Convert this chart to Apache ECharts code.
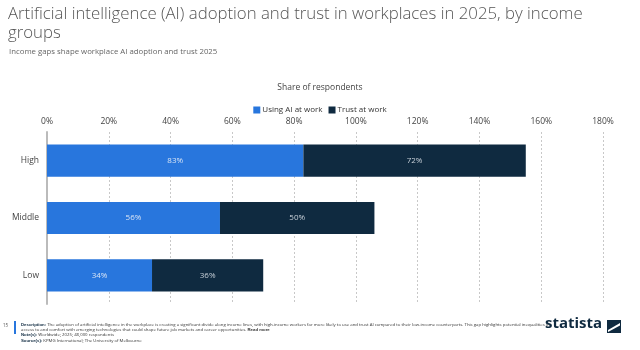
<!DOCTYPE html>
<html><head><meta charset="utf-8">
<script src="https://cdn.jsdelivr.net/npm/echarts@6/dist/echarts.min.js"></script>
<style>html,body{margin:0;padding:0;background:#fff}#c{width:640px;height:350px}</style>
</head><body><div id="c"></div>
<script>
var categories = ['High', 'Middle', 'Low'];
var usingAI = [83, 56, 34];
var trustAI = [72, 50, 36];
var xTicks = [0, 20, 40, 60, 80, 100, 120, 140, 160, 180];

var chart = echarts.init(document.getElementById('c'), null, {renderer: 'canvas'});
var F = '"Open Sans", "Noto Sans", sans-serif';
var desc1 = 'The adoption of artificial intelligence in the workplace is creating a significant divide along income lines, with high-income workers far more likely to use and trust AI compared to their low-income counterparts. This gap highlights potential inequalities in';
var desc2 = 'access to and comfort with emerging technologies that could shape future job markets and career opportunities. ';
chart.setOption({
  animation: false,
  textStyle: {fontFamily: F},
  title: [{
    text: 'Artificial intelligence (AI) adoption and trust in workplaces in 2025, by income\ngroups',
    left: 8, top: 5, padding: 0,
    textStyle: {fontFamily: F, fontWeight: 300, fontSize: 16.8, color: '#555', lineHeight: 19}
  }, {
    text: 'Income gaps shape workplace AI adoption and trust 2025',
    left: 9, top: 48, padding: 0,
    textStyle: {fontFamily: F, fontWeight: 400, fontSize: 7.8, color: '#666'}
  }],
  legend: {
    top: 101, left: 'center',
    itemWidth: 7, itemHeight: 7, itemGap: 6,
    icon: 'rect',
    textStyle: {fontFamily: F, fontSize: 8, color: '#333', padding: [0, 0, 0, -3]},
    data: ['Using AI at work', 'Trust at work']
  },
  grid: {left: 47, right: 37, top: 132, bottom: 46, containLabel: false},
  xAxis: {
    type: 'value', position: 'top', min: 0, max: 180, interval: 20,
    axisLine: {show: false}, axisTick: {show: false},
    axisLabel: {formatter: '{value}%', fontSize: 8.5, color: '#444', margin: 6},
    splitLine: {show: true, lineStyle: {type: [2, 2], color: '#c8c8c8', width: 1}}
  },
  yAxis: {
    type: 'category', data: categories, inverse: true,
    axisLine: {show: true, lineStyle: {color: '#bbb', width: 2}},
    axisTick: {show: false},
    axisLabel: {fontSize: 8.5, color: '#444', margin: 8}
  },
  series: [{
    name: 'Using AI at work', type: 'bar', stack: 's', data: usingAI, barWidth: '56%',
    itemStyle: {color: '#2876dd'},
    label: {show: true, position: 'inside', formatter: '{c}%', color: '#d8e4f5', fontSize: 8}
  }, {
    name: 'Trust at work', type: 'bar', stack: 's', data: trustAI, barWidth: '56%',
    itemStyle: {color: '#0f2a40'},
    label: {show: true, position: 'inside', formatter: '{c}%', color: '#c8d0d8', fontSize: 8}
  }],
  graphic: [
    {type: 'text', left: 'center', top: 83, style: {text: 'Share of respondents', font: '8.5px ' + F, fill: '#444'}},
    {type: 'text', left: 3, top: 323, style: {text: '15', font: '4.5px ' + F, fill: '#555'}},
    {type: 'rect', shape: {x: 14, y: 321, width: 2, height: 13}, style: {fill: '#2876dd'}},
    {type: 'text', left: 21, top: 322, style: {text: '{b|Description:} ' + desc1 + '\n' + desc2 + '{u|Read more}\n{b|Note(s):} Worldwide; 2025; 48,000 respondents\n{b|Source(s):} KPMG International; The University of Melbourne',
      font: '4.3px ' + F, fill: '#333', lineHeight: 5.3,
      rich: {b: {fontWeight: 'bold', fontSize: 4.3, fill: '#0f2a40'}, u: {fontWeight: 'bold', fontSize: 4.3, textDecoration: 'underline', fill: '#333'}}}},
    {type: 'text', left: 545, top: 316, style: {text: 'statista', font: 'bold 15px ' + F, fill: '#0f2a40'}},
    {type: 'rect', shape: {x: 607, y: 320, width: 14, height: 13}, style: {fill: '#0f2a40'}},
    {type: 'polygon', shape: {points: [[608, 330], [620, 323], [620, 325.5], [608, 332]]}, style: {fill: '#fff'}}
  ]
});
</script></body></html>
